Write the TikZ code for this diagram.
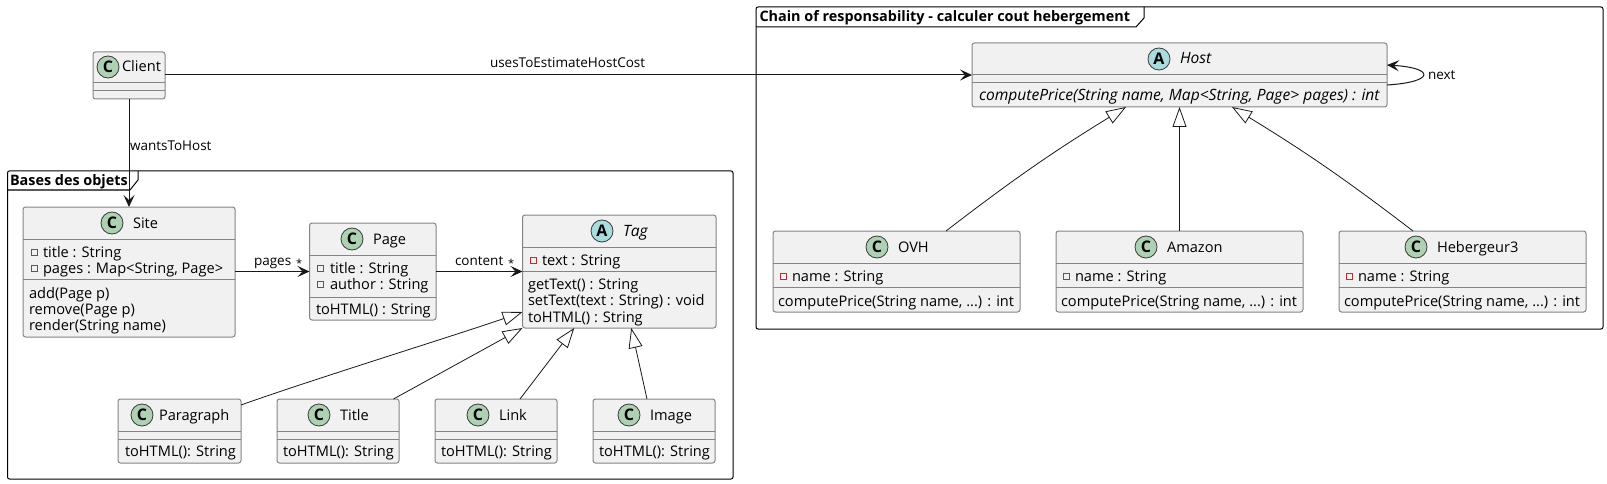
\documentclass[tikz,border=0pt]{standalone}
\usepackage{fontspec}
\setmainfont{Open Sans}
\usetikzlibrary{arrows.meta,positioning}
\definecolor{classfill}{HTML}{F1F1F1}
\definecolor{classedge}{HTML}{848484}
\definecolor{linecol}{HTML}{181818}
\definecolor{spotC}{HTML}{ADD1B2}
\definecolor{spotA}{HTML}{A9DCDF}
\definecolor{markcol}{HTML}{C82930}
\tikzset{>={Stealth[length=12pt,width=11pt,inset=5pt]},
	classbody/.style={draw=classedge,fill=classfill,line width=1pt,rounded corners=2.5pt,
		inner sep=0pt,outer sep=0pt,anchor=north west},
	classrule/.style={draw=classedge,line width=1pt},
	spot/.style={circle,draw=linecol!85,line width=0.8pt,inner sep=0pt,minimum size=22pt,
		font=\fontsize{16}{16}\selectfont\bfseries},
	txt/.style={inner sep=0pt,outer sep=0pt,anchor=base west,text=black,font=\fontsize{14.6}{17}\selectfont},
	itxt/.style={txt,font=\fontsize{15.6}{18}\selectfont\itshape},
	small/.style={txt,font=\fontsize{13.5}{15}\selectfont},
	star/.style={txt,font=\fontsize{11}{13}\selectfont},
	priv/.style={draw=markcol,line width=0.8pt,inner sep=0pt,minimum size=6pt},
	framebox/.style={draw=black,line width=1pt,rounded corners=2pt,inner sep=0pt,outer sep=0pt,anchor=north west},
	frametitle/.style={txt,font=\fontsize{14.4}{17}\selectfont\bfseries},
	assoc/.style={->,draw=linecol,line width=1pt},
	inherit/.style={-{Triangle[open,length=20pt,width=14pt]},draw=linecol,line width=0.8pt}}
% #1 name, #2 left, #3 top, #4 right, #5 bottom, #6 and #7 heights of the two rules
\newcommand{\classbox}[7]{
	\node[classbody,minimum width={#4-#2},minimum height={#5-#3}] (#1) at (#2,#3) {};
	\draw[classrule] (#2,#6) -- (#4,#6);
	\draw[classrule] (#2,#7) -- (#4,#7);
}
% #1 name, #2 letter, #3 colour, #4 x, #5 y of the spot, #6 options of the title, #7 title
\newcommand{\classhead}[7]{
	\node[spot,fill=#3] (#1-spot) at (#4,#5) {#2};
	\node[txt,#6] (#1-title) at (#4+21,#5+5) {#7};
}
\begin{document}
\begin{tikzpicture}[x=1pt,y=-1pt]
	\useasboundingbox (0,0) rectangle (1607,484);

	% frames
	\node[framebox,minimum width=725.5pt,minimum height=308pt] (objets) at (7.5,171) {};
	\node[frametitle] (objets-title) at (10,185.5) {Bases des objets};
	\draw[draw=black,line width=1pt] (7.5,190) -- (130,190) -- (138,180) -- (138,171);
	\node[framebox,minimum width=847pt,minimum height=322pt] (chain) at (756,7) {};
	\node[frametitle] (chain-title) at (759.5,21.5) {Chain of responsability - calculer cout hebergement};
	\draw[draw=black,line width=1pt] (756,27) -- (1136,27) -- (1144,18) -- (1144,7);

	% classes
	\classbox{client}{93}{52}{165}{99}{83}{91}
	\classhead{client}{C}{spotC}{108}{67}{xshift=-7pt}{Client}
	\classbox{site}{23}{207}{235}{337}{239}{279}
	\classhead{site}{C}{spotC}{112}{223}{}{Site}
	\node[priv] (site-m1) at (34.5,252) {};
	\node[priv] (site-m2) at (34.5,268) {};
	\node[txt] (site-a1) at (43,257) {title : String};
	\node[txt] (site-a2) at (43,273) {pages : Map<String, Page>};
	\node[txt] (site-f1) at (29,298) {add(Page p)};
	\node[txt] (site-f2) at (29,314) {remove(Page p)};
	\node[txt] (site-f3) at (29,330) {render(String name)};

	\classbox{page}{309.5}{223}{436}{320}{255}{297}
	\classhead{page}{C}{spotC}{352}{239}{}{Page}
	\node[priv] (page-m1) at (320.5,268) {};
	\node[priv] (page-m2) at (320.5,284) {};
	\node[txt] (page-a1) at (330,273) {title : String};
	\node[txt] (page-a2) at (330,289) {author : String};
	\node[txt] (page-f1) at (316,314) {toHTML() : String};

	\classbox{tag}{522.5}{215}{716}{328}{247}{271}
	\classhead{tag}{A}{spotA}{602}{231}{itxt}{Tag}
	\node[priv] (tag-m1) at (533,260) {};
	\node[txt] (tag-a1) at (542,265) {text : String};
	\node[txt] (tag-f1) at (528,289) {getText() : String};
	\node[txt] (tag-f2) at (528,305) {setText(text : String) : void};
	\node[txt] (tag-f3) at (528,322) {toHTML() : String};

	\classbox{paragraph}{118}{399}{241}{463}{431}{439}
	\classhead{paragraph}{C}{spotC}{142}{415}{xshift=-4pt}{Paragraph}
	\node[txt] (paragraph-f1) at (125,456) {toHTML(): String};
	\classbox{title}{277}{399}{399}{463}{431}{439}
	\classhead{title}{C}{spotC}{319}{415}{}{Title}
	\node[txt] (title-f1) at (283,456) {toHTML(): String};
	\classbox{link}{435}{399}{557}{463}{431}{439}
	\classhead{link}{C}{spotC}{478}{415}{}{Link}
	\node[txt] (link-f1) at (441,456) {toHTML(): String};
	\classbox{image}{593}{399}{715}{463}{431}{439}
	\classhead{image}{C}{spotC}{629}{415}{}{Image}
	\node[txt] (image-f1) at (599,456) {toHTML(): String};

	\classbox{host}{972}{43}{1387}{107}{75}{83}
	\classhead{host}{A}{spotA}{1159}{59}{itxt}{Host}
	\node[itxt] (host-f1) at (979,101) {computePrice(String name, Map<String, Page> pages) : int};

	\classbox{ovh}{773}{231}{1020}{312}{263}{287}
	\classhead{ovh}{C}{spotC}{877}{247}{}{OVH}
	\node[priv] (ovh-m1) at (783,276) {};
	\node[txt] (ovh-a1) at (792,281) {name : String};
	\node[txt] (ovh-f1) at (778,306) {computePrice(String name, ...) : int};

	\classbox{amazon}{1056}{231}{1303}{312}{263}{287}
	\classhead{amazon}{C}{spotC}{1146}{247}{}{Amazon}
	\node[priv] (amazon-m1) at (1066,276) {};
	\node[txt] (amazon-a1) at (1075,281) {name : String};
	\node[txt] (amazon-f1) at (1061,306) {computePrice(String name, ...) : int};

	\classbox{heberg}{1339}{231}{1586}{312}{263}{287}
	\classhead{heberg}{C}{spotC}{1416}{247}{}{Hebergeur3}
	\node[priv] (heberg-m1) at (1349,276) {};
	\node[txt] (heberg-a1) at (1358,281) {name : String};
	\node[txt] (heberg-f1) at (1344,306) {computePrice(String name, ...) : int};

	% connectors
	\draw[assoc] (client.south) -- (site.north);
	\draw[assoc] (client.east |- host.west) -- (host.west);
	\draw[assoc] (site.east |- page.west) -- (page.west);
	\draw[assoc] (page.east) -- (tag.west);
	\draw[assoc] ([yshift=-10pt]host.east) .. controls ([shift={(48pt,-7pt)}]host.east) and ([shift={(48pt,7pt)}]host.east) .. ([yshift=10pt]host.east);
	\node[small] (lbl-wants) at (130,151) {wantsToHost};
	\node[small] (lbl-uses) at (490,68) {usesToEstimateHostCost};
	\node[small] (lbl-pages) at (254,265) {pages};
	\node[star] (lbl-pages-n) at (296,267.5) {*};
	\node[small] (lbl-content) at (455,265) {content};
	\node[star] (lbl-content-n) at (508,267.5) {*};
	\node[small] (lbl-next) at (1428,80) {next};

	\draw[inherit] ([yshift=-6pt]paragraph.north east) .. controls +(70,-25) and +(-60,21) .. ([yshift=-40.5pt]tag.west);
	\draw[inherit] ([xshift=55.5pt]title.north) -- (tag.south west);
	\draw[inherit] ([xshift=24pt]link.north) -- ([xshift=-45pt]tag.south);
	\draw[inherit] ([xshift=-7pt]image.north) -- ([xshift=12pt]tag.south);
	\draw[inherit] ([xshift=49.5pt]ovh.north) to[bend left=3] ([xshift=-53.5pt]host.south);
	\draw[inherit] (amazon.north) -- (host.south);
	\draw[inherit] ([xshift=-49.5pt]heberg.north) to[bend right=3] ([xshift=52.5pt]host.south);
\end{tikzpicture}
\end{document}
